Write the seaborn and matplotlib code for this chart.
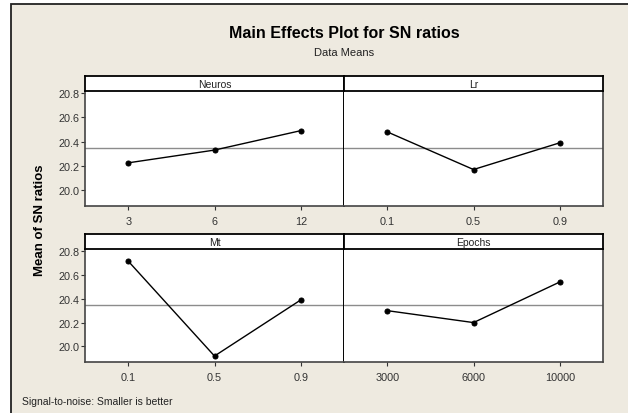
import numpy as np
import pandas as pd
import matplotlib
matplotlib.use("Agg")
import matplotlib.pyplot as plt
from matplotlib.patches import Rectangle
import seaborn as sns

# factor levels and mean SN ratios
neuros_levels = ["3", "6", "12"]
neuros_sn = [20.225, 20.33, 20.49]
lr_levels = ["0.1", "0.5", "0.9"]
lr_sn = [20.48, 20.17, 20.39]
mt_levels = ["0.1", "0.5", "0.9"]
mt_sn = [20.715, 19.92, 20.39]
epochs_levels = ["3000", "6000", "10000"]
epochs_sn = [20.30, 20.20, 20.54]

factors = [
    ("Neuros", neuros_levels, neuros_sn),
    ("Lr", lr_levels, lr_sn),
    ("Mt", mt_levels, mt_sn),
    ("Epochs", epochs_levels, epochs_sn),
]
y_ticks = [20.0, 20.2, 20.4, 20.6, 20.8]

sns.set_style("white")
plt.rcParams["font.family"] = ["Liberation Sans", "DejaVu Sans"]

W, H = 628, 414
fig = plt.figure(figsize=(W / 100, H / 100), dpi=100, facecolor="white")

# beige background panel with dark border
fig.patches.append(Rectangle((11 / W, -0.05), 1.0, 1 - 5 / H + 0.05,
                             transform=fig.transFigure, facecolor="#eeeae0",
                             edgecolor="#222222", linewidth=1.3, zorder=-5))


def px_axes(x0, y0, x1, y1):
    # pixel box (top-left origin) -> figure axes
    return fig.add_axes([x0 / W, 1 - y1 / H, (x1 - x0) / W, (y1 - y0) / H])


grand_mean = np.mean(neuros_sn + lr_sn + mt_sn + epochs_sn)

cols = [(85, 344), (344, 603)]
rows = [(77, 92, 207), (235, 250, 363)]
ylim = (19.87, 20.816)

for i, (name, levels, vals) in enumerate(factors):
    r, c = divmod(i, 2)
    x0, x1 = cols[c]
    s0, s1, b = rows[r]
    df = pd.DataFrame({"level": levels, "sn": vals})

    ax = px_axes(x0, s1, x1, b)
    ax.set_facecolor("white")
    sns.pointplot(data=df, x="level", y="sn", order=levels, color="black",
                  markers="o", markersize=3.6, linewidth=1.0, ax=ax)
    ax.axhline(grand_mean, color="#8c8c8c", linewidth=1.0, zorder=0)
    ax.set_xlim(-0.5, 2.5)
    ax.set_ylim(*ylim)
    ax.set_xlabel("")
    ax.set_ylabel("")
    ax.tick_params(axis="x", direction="out", length=3, width=0.8,
                   colors="#333333", labelsize=7.8, pad=4, bottom=True)
    if c == 0:
        ax.set_yticks(y_ticks)
        ax.set_yticklabels([f"{v:.1f}" for v in y_ticks])
        ax.tick_params(axis="y", direction="out", length=3, width=0.8,
                       colors="#333333", labelsize=7.8, pad=1, left=True)
    else:
        ax.set_yticks([])
    for side, sp in ax.spines.items():
        sp.set_visible(True)
        sp.set_color("#444444")
        sp.set_linewidth(1.2)
    ax.spines["top"].set_visible(False)
    if c == 0:
        ax.spines["right"].set_color("black")
        ax.spines["right"].set_linewidth(1.4)
    else:
        ax.spines["left"].set_visible(False)

    # strip with factor name
    sax = px_axes(x0, s0, x1, s1)
    sax.set_facecolor("white")
    sax.set_xticks([])
    sax.set_yticks([])
    for sp in sax.spines.values():
        sp.set_color("black")
        sp.set_linewidth(1.3)
    sax.text(0.5, 0.48, name, ha="center", va="center", fontsize=7.5,
             color="#222222", transform=sax.transAxes)

fig.text(344 / W, 1 - 34 / H, "Main Effects Plot for SN ratios", ha="center",
         va="center", fontsize=11.5, fontweight="bold", color="black")
fig.text(344 / W, 1 - 53 / H, "Data Means", ha="center", va="center",
         fontsize=8, color="#222222")
fig.text(40 / W, 1 - 220 / H, "Mean of SN ratios", ha="center", va="center",
         rotation=90, fontsize=9.5, fontweight="bold", color="black")
fig.text(22 / W, 1 - 402 / H, "Signal-to-noise: Smaller is better",
         ha="left", va="center", fontsize=7.5, color="#222222")

fig.savefig("out.png", dpi=100, facecolor=fig.get_facecolor())
